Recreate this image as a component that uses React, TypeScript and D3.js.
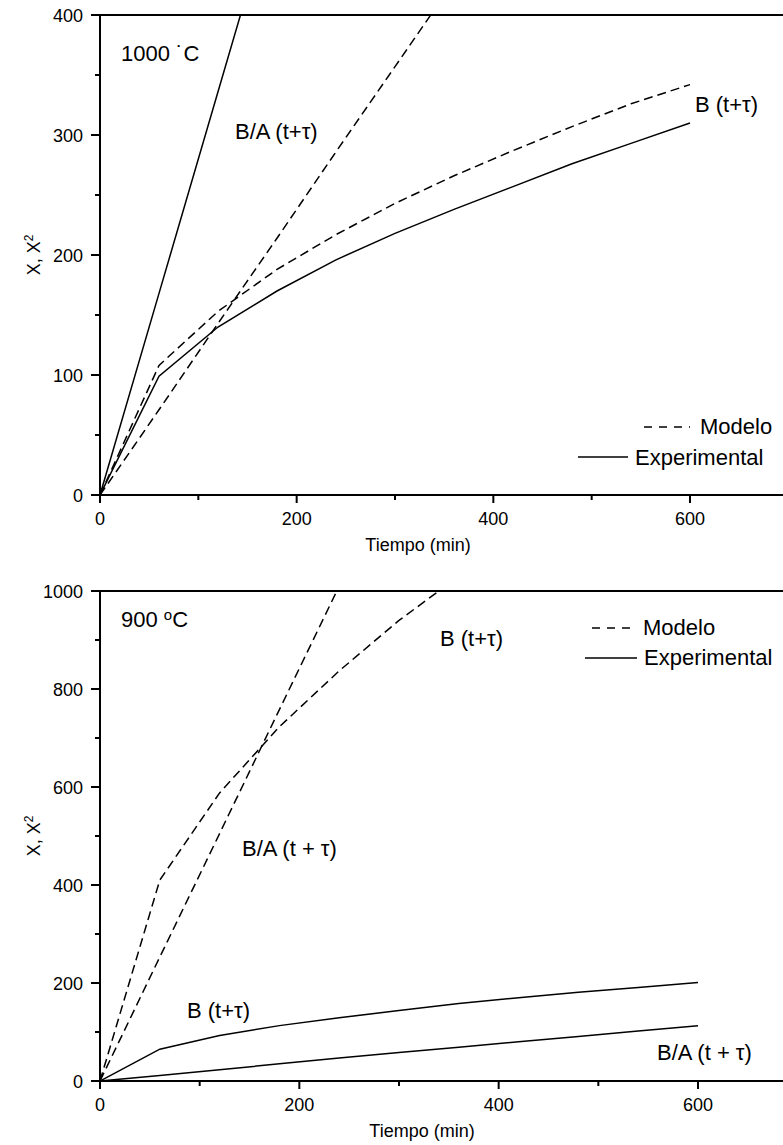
import React from "react";
import * as d3 from "d3";

// ---- 1000 °C panel ----
const timeTop = [0, 60, 120, 180, 240, 300, 360, 420, 480, 540, 600];
const expB1000 = [0, 99, 140, 170, 196, 218, 238, 257, 276, 293, 310];
const modB1000 = [0, 108, 153, 188, 217, 243, 266, 287, 307, 326, 342];
const timeModBA1000 = [0, 60, 120, 180, 240, 300, 360];
const modBA1000 = [0, 71, 143, 214, 286, 357, 428];
const timeExpBA1000 = [0, 60, 120, 180];
const expBA1000 = [0, 168, 336, 504];

// ---- 900 °C panel ----
const timeBottom = [0, 60, 120, 180, 240, 300, 360, 420, 480, 540, 600];
const expB900 = [0, 65, 93, 113, 129, 144, 158, 170, 181, 191, 201];
const expBA900 = [0, 11, 23, 35, 47, 58, 69, 80, 91, 102, 113];
const timeModB900 = [0, 60, 120, 180, 240, 300, 360];
const modB900 = [0, 410, 588, 723, 837, 940, 1030];
const timeModBA900 = [0, 60, 120, 180, 240];
const modBA900 = [0, 253, 505, 758, 1010];

const xTickValues = [0, 200, 400, 600];
const xMinorValues = [100, 300, 500];
const yTicksTop = [0, 100, 200, 300, 400];
const yMinorTop = [50, 150, 250, 350];
const yTicksBottom = [0, 200, 400, 600, 800, 1000];
const yMinorBottom = [100, 300, 500, 700, 900];

const FONT = "'Liberation Sans', Arial, Helvetica, sans-serif";
const W = 783;
const H = 1145;

type Series = { t: number[]; v: number[]; dashed: boolean };
type Note = { x: number; y: number; parts: React.ReactNode };

function zip(t: number[], v: number[]): [number, number][] {
  return t.map((d, i) => [d, v[i]]);
}

function Panel(props: {
  id: string;
  x: d3.ScaleLinear<number, number>;
  y: d3.ScaleLinear<number, number>;
  yTicks: number[];
  yMinor: number[];
  series: Series[];
  notes: Note[];
  titleX: number;
}) {
  const { id, x, y, yTicks, yMinor, series, notes, titleX } = props;
  const [x0] = x.range();
  const xEnd = x(700);
  const [yb, yt] = y.range();
  const line = d3
    .line<[number, number]>()
    .x((d) => x(d[0]))
    .y((d) => y(d[1]));
  const yMid = (yb + yt) / 2;
  return (
    <g>
      <defs>
        <clipPath id={id}>
          <rect x={x0} y={yt} width={xEnd - x0} height={yb - yt} />
        </clipPath>
      </defs>
      <g clipPath={`url(#${id})`}>
        {series.map((s, i) => (
          <path
            key={i}
            d={line(zip(s.t, s.v)) || ""}
            fill="none"
            stroke="#000"
            strokeWidth={1.5}
            strokeDasharray={s.dashed ? "9,5" : undefined}
          />
        ))}
      </g>
      {/* frame */}
      <line x1={x0} x2={xEnd} y1={yt} y2={yt} stroke="#000" strokeWidth={2} />
      <line x1={x0} x2={xEnd} y1={yb} y2={yb} stroke="#000" strokeWidth={2} />
      <line x1={x0} x2={x0} y1={yt - 1} y2={yb + 1} stroke="#000" strokeWidth={2} />
      <line x1={xEnd} x2={xEnd} y1={yt} y2={yb} stroke="#000" strokeWidth={2} />
      {/* y ticks */}
      {yTicks.map((v) => (
        <g key={"y" + v}>
          <line x1={x0 - 9} x2={x0} y1={y(v)} y2={y(v)} stroke="#000" strokeWidth={2} />
          <text x={x0 - 17} y={y(v) + 6.5} textAnchor="end" fontSize={18} fontFamily={FONT}>
            {v}
          </text>
        </g>
      ))}
      {yMinor.map((v) => (
        <line key={"ym" + v} x1={x0 - 5} x2={x0} y1={y(v)} y2={y(v)} stroke="#000" strokeWidth={2} />
      ))}
      {/* x ticks */}
      {xTickValues.map((v) => (
        <g key={"x" + v}>
          <line x1={x(v)} x2={x(v)} y1={yb} y2={yb + 8} stroke="#000" strokeWidth={2} />
          <text x={x(v)} y={yb + 30} textAnchor="middle" fontSize={18} fontFamily={FONT}>
            {v}
          </text>
        </g>
      ))}
      {xMinorValues.map((v) => (
        <line key={"xm" + v} x1={x(v)} x2={x(v)} y1={yb} y2={yb + 5} stroke="#000" strokeWidth={2} />
      ))}
      {/* axis titles */}
      <text x={titleX} y={yb + 56} textAnchor="middle" fontSize={18} fontFamily={FONT}>
        Tiempo (min)
      </text>
      <text
        transform={`translate(40, ${yMid}) rotate(-90)`}
        textAnchor="middle"
        fontSize={18}
        fontFamily={FONT}
      >
        X, X
        <tspan dy={-7} fontSize={12}>
          2
        </tspan>
      </text>
      {notes.map((n, i) => (
        <text key={i} x={n.x} y={n.y} fontSize={22} fontFamily={FONT}>
          {n.parts}
        </text>
      ))}
    </g>
  );
}

export default function App() {
  const xTop = d3.scaleLinear().domain([0, 600]).range([100, 690]);
  const yTop = d3.scaleLinear().domain([0, 400]).range([495, 15]);
  const xBot = d3.scaleLinear().domain([0, 600]).range([100, 698]);
  const yBot = d3.scaleLinear().domain([0, 1000]).range([1081, 591]);

  const seriesTop: Series[] = [
    { t: timeExpBA1000, v: expBA1000, dashed: false },
    { t: timeTop, v: expB1000, dashed: false },
    { t: timeModBA1000, v: modBA1000, dashed: true },
    { t: timeTop, v: modB1000, dashed: true },
  ];
  const seriesBot: Series[] = [
    { t: timeBottom, v: expB900, dashed: false },
    { t: timeBottom, v: expBA900, dashed: false },
    { t: timeModB900, v: modB900, dashed: true },
    { t: timeModBA900, v: modBA900, dashed: true },
  ];

  const notesTop: Note[] = [
    { x: 121, y: 61, parts: "1000 \u02D9C" },
    { x: 235, y: 139, parts: "B/A (t+\u03C4)" },
    { x: 695, y: 112, parts: "B (t+\u03C4)" },
    { x: 700, y: 434, parts: "Modelo" },
    { x: 635, y: 465, parts: "Experimental" },
  ];
  const notesBot: Note[] = [
    {
      x: 121,
      y: 627,
      parts: (
        <>
          900 <tspan dy={-7} fontSize={15}>o</tspan>
          <tspan dy={7}>C</tspan>
        </>
      ),
    },
    { x: 440, y: 646, parts: "B (t+\u03C4)" },
    { x: 643, y: 635, parts: "Modelo" },
    { x: 644, y: 665, parts: "Experimental" },
    { x: 242, y: 856, parts: "B/A (t + \u03C4)" },
    { x: 187, y: 1018, parts: "B (t+\u03C4)" },
    { x: 657, y: 1060, parts: "B/A (t + \u03C4)" },
  ];

  return (
    <svg
      width={W}
      height={H}
      style={{ position: "absolute", left: 0, top: 0, background: "#fff" }}
    >
      <rect width={W} height={H} fill="#fff" />
      <Panel
        id="clip1000"
        x={xTop}
        y={yTop}
        yTicks={yTicksTop}
        yMinor={yMinorTop}
        series={seriesTop}
        notes={notesTop}
        titleX={418}
      />
      {/* legend samples, 1000 °C */}
      <line x1={644} x2={690} y1={427} y2={427} stroke="#000" strokeWidth={1.5} strokeDasharray="8,7" />
      <line x1={578} x2={628} y1={457} y2={457} stroke="#000" strokeWidth={1.5} />
      <Panel
        id="clip900"
        x={xBot}
        y={yBot}
        yTicks={yTicksBottom}
        yMinor={yMinorBottom}
        series={seriesBot}
        notes={notesBot}
        titleX={422}
      />
      {/* legend samples, 900 °C */}
      <line x1={592} x2={632} y1={628} y2={628} stroke="#000" strokeWidth={1.5} strokeDasharray="8,7" />
      <line x1={585} x2={637} y1={658} y2={658} stroke="#000" strokeWidth={1.5} />
    </svg>
  );
}
